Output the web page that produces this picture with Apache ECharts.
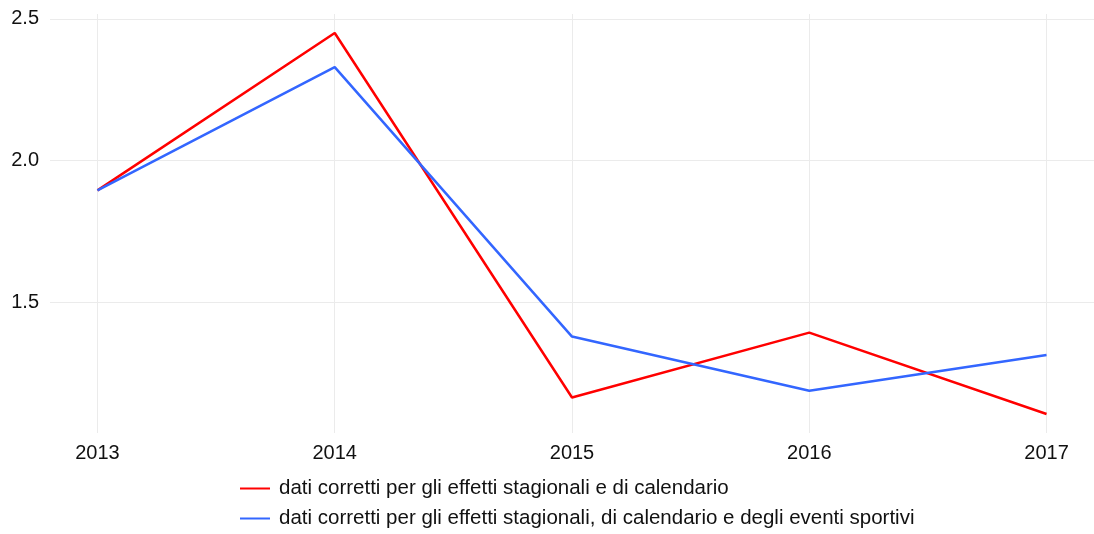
<!DOCTYPE html>
<html><head><meta charset="utf-8">
<script src="https://cdn.jsdelivr.net/npm/echarts@6/dist/echarts.min.js"></script>
<style>html,body{margin:0;padding:0;background:#fff}#c{width:1094px;height:534px}</style>
</head><body><div id="c"></div>
<script>
const years = [2013, 2014, 2015, 2016, 2017];
const yTicks = [1.5, 2.0, 2.5];
const seriesNames = [
  'dati corretti per gli effetti stagionali e di calendario',
  'dati corretti per gli effetti stagionali, di calendario e degli eventi sportivi'
];
const redValues = [1.895, 2.450, 1.164, 1.393, 1.106];
const blueValues = [1.895, 2.330, 1.379, 1.188, 1.314];

const font = 'Liberation Sans, Arial, sans-serif';
const txt = '#111';
const chart = echarts.init(document.getElementById('c'), null, {renderer: 'canvas'});
const toPairs = vals => years.map((y, i) => [y, vals[i]]);
const legendBase = {
  orient: 'horizontal', left: 235, itemWidth: 30, itemHeight: 2,
  icon: 'rect',
  textStyle: {fontSize: 20.5, color: txt, fontFamily: font, padding: [0, 0, 0, 4]}
};
chart.setOption({
  animation: false,
  textStyle: {fontFamily: font},
  grid: {left: 50, right: 0, top: 14, bottom: 101, containLabel: false},
  xAxis: {
    type: 'value', min: years[0] - 0.2, max: years[years.length - 1] + 0.2,
    axisLine: {show: false},
    axisTick: {show: false, customValues: years},
    axisLabel: {customValues: years, color: txt, fontSize: 20, margin: 10, fontFamily: font, formatter: v => String(v)},
    splitLine: {show: true, lineStyle: {color: '#ebebeb', width: 1}}
  },
  yAxis: {
    type: 'value',
    min: v => v.min - 0.05 * (v.max - v.min),
    max: v => v.max + 0.05 * (v.max - v.min),
    axisLine: {show: false},
    axisTick: {show: false, customValues: yTicks},
    axisLabel: {customValues: yTicks, color: txt, fontSize: 20, margin: 11, fontFamily: font, padding: [4, 0, 0, 0], formatter: v => v.toFixed(1)},
    splitLine: {show: true, lineStyle: {color: '#ebebeb', width: 1}}
  },
  legend: [
    Object.assign({}, legendBase, {top: 473, data: [seriesNames[0]]}),
    Object.assign({}, legendBase, {top: 503, data: [seriesNames[1]]})
  ],
  series: [
    {name: seriesNames[0], type: 'line', data: toPairs(redValues), symbol: 'none', lineStyle: {color: '#ff0000', width: 2.5}, itemStyle: {color: '#ff0000'}},
    {name: seriesNames[1], type: 'line', data: toPairs(blueValues), symbol: 'none', lineStyle: {color: '#3366ff', width: 2.5}, itemStyle: {color: '#3366ff'}}
  ]
});
</script></body></html>
